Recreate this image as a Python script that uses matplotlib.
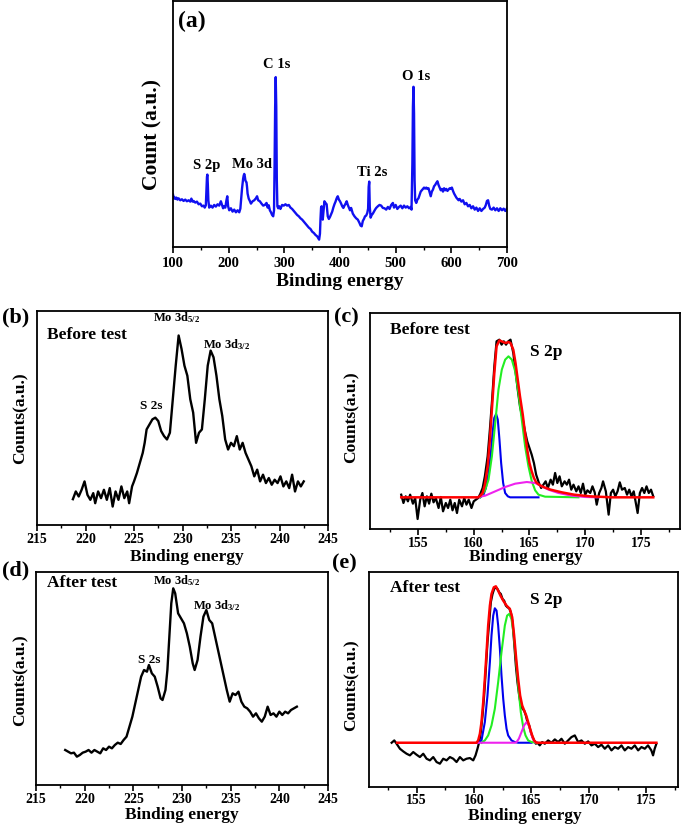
import matplotlib
matplotlib.use("Agg")
import matplotlib.pyplot as plt
from matplotlib.ticker import MultipleLocator

plt.rcParams['font.family'] = ['Liberation Serif', 'DejaVu Serif']
plt.rcParams['font.weight'] = 'bold'
plt.rcParams['mathtext.fontset'] = 'custom'
plt.rcParams['mathtext.rm'] = 'Liberation Serif:bold'
plt.rcParams['mathtext.it'] = 'Liberation Serif:bold'
plt.rcParams['mathtext.bf'] = 'Liberation Serif:bold'

# ---------------- data (binding energy eV, counts a.u.) ----------------
survey_pts = [
    (100, 157), (101, 146), (102, 150), (104, 144), (106, 148), (108, 142), (110, 146), (113, 140), (116, 143),
    (119, 138), (122, 142), (125, 137), (128, 140), (131, 136), (133, 145), (135, 136), (137, 138), (140, 133),
    (143, 136), (146, 128), (149, 130), (152, 122), (155, 124), (157, 118), (159, 125), (160, 170), (161, 210),
    (161.7, 217), (162.5, 190), (163.5, 140), (165, 118), (168, 124), (171, 118), (174, 126), (177, 121),
    (180, 128), (183, 124), (186, 137), (188, 126), (190, 116), (192, 122), (194, 118), (196, 140), (197.5, 152),
    (199, 122), (201, 110), (204, 116), (207, 106), (210, 112), (213, 104), (216, 110), (219, 104), (221, 115),
    (222, 135), (224, 175), (226, 205), (227, 214), (228, 219), (229, 212), (230, 200), (231, 196), (232, 194),
    (233, 180), (234, 160), (236, 145), (238, 138), (240, 130), (243, 137), (246, 140), (249, 146), (251, 152),
    (253, 140), (256, 137), (259, 130), (262, 124), (265, 126), (268, 132), (270, 118), (272, 125), (274, 110),
    (276, 104), (278, 96), (280, 92), (281.5, 110), (282.5, 250), (283.5, 420), (284.5, 509), (285.5, 420),
    (286.5, 200), (287.5, 122), (289, 116), (291, 122), (293, 114), (296, 126), (299, 124), (302, 128),
    (305, 124), (308, 126), (311, 118), (314, 114), (317, 108), (320, 102), (323, 96), (326, 92), (329, 86),
    (332, 82), (335, 76), (338, 70), (341, 64), (344, 58), (347, 54), (350, 46), (353, 42), (356, 36), (359, 32),
    (361, 26), (362.5, 22), (364, 40), (365, 85), (366, 118), (367, 122), (368, 96), (369, 82), (370.5, 110),
    (372, 137), (374, 132), (376, 128), (378, 92), (380, 84), (382, 90), (384, 98), (386, 106), (388, 118),
    (390, 128), (392, 136), (394, 146), (396, 152), (398, 142), (400, 137), (402, 130), (404, 122), (406, 117),
    (408, 124), (410, 130), (412, 137), (414, 126), (416, 118), (418, 110), (420, 117), (423, 100), (426, 92),
    (429, 86), (432, 82), (435, 72), (437, 64), (439, 62), (441, 78), (443, 84), (445, 92), (447, 94), (449, 102),
    (450.5, 115), (451.5, 180), (452.5, 196), (453.5, 120), (455, 88), (457, 96), (459, 100), (461, 106),
    (463, 112), (465, 117), (468, 122), (471, 126), (474, 124), (477, 117), (480, 116), (483, 112), (486, 120),
    (489, 114), (492, 126), (495, 132), (497, 118), (500, 126), (503, 114), (506, 120), (509, 124), (512, 116),
    (515, 124), (518, 118), (521, 122), (524, 116), (527, 120), (528.5, 112), (530, 250), (531, 420),
    (532, 480), (533, 400), (534, 200), (535, 140), (537, 132), (539, 142), (541, 146), (543, 156), (545, 166),
    (547, 170), (549, 174), (551, 178), (553, 175), (555, 178), (557, 174), (559, 176), (561, 164), (563, 152),
    (565, 166), (567, 172), (569, 182), (571, 186), (573, 192), (575, 197), (577, 186), (579, 178), (581, 170),
    (583, 174), (585, 166), (587, 176), (589, 170), (591, 174), (593, 168), (595, 172), (597, 176), (599, 174),
    (601, 178), (603, 168), (605, 160), (607, 154), (609, 148), (611, 144), (613, 140), (615, 144), (618, 136),
    (621, 140), (624, 128), (627, 132), (630, 122), (633, 126), (636, 116), (639, 122), (642, 112), (645, 118),
    (648, 108), (651, 116), (654, 108), (657, 114), (660, 118), (662, 126), (664, 138), (666, 140), (668, 124),
    (670, 114), (673, 112), (676, 118), (679, 110), (682, 116), (685, 108), (688, 116), (691, 110), (694, 115),
    (697, 108), (700, 116),
]

mo_before_pts = [
    (218.7, 77), (219.0, 100), (219.3, 85), (219.6, 105), (219.9, 130), (220.2, 90), (220.5, 75), (220.8, 95),
    (221.0, 65), (221.3, 100), (221.6, 80), (221.9, 105), (222.2, 75), (222.5, 110), (222.8, 55), (223.1, 100),
    (223.4, 75), (223.7, 115), (224.0, 80), (224.3, 100), (224.5, 65), (224.8, 115), (225.0, 130), (225.3, 155),
    (225.6, 185), (225.9, 215), (226.1, 245), (226.3, 285), (226.6, 300), (226.9, 315), (227.2, 320),
    (227.5, 310), (227.8, 280), (228.1, 265), (228.4, 255), (228.7, 275), (229.0, 375), (229.3, 475),
    (229.6, 565), (229.9, 525), (230.2, 475), (230.5, 445), (230.8, 375), (231.1, 335), (231.4, 245),
    (231.7, 275), (232.0, 285), (232.3, 375), (232.6, 475), (232.9, 520), (233.2, 500), (233.5, 445),
    (233.8, 375), (234.1, 325), (234.4, 255), (234.7, 225), (235.0, 245), (235.3, 235), (235.6, 265),
    (235.9, 225), (236.2, 245), (236.5, 215), (236.8, 195), (237.1, 175), (237.4, 145), (237.7, 165),
    (238.0, 130), (238.3, 150), (238.6, 125), (238.9, 140), (239.2, 120), (239.5, 135), (239.8, 125),
    (240.1, 145), (240.4, 115), (240.7, 130), (241.0, 110), (241.3, 150), (241.6, 100), (241.9, 130),
    (242.2, 115), (242.5, 130),
]

mo_after_pts = [
    (218.0, 105), (218.3, 100), (218.6, 95), (218.9, 97), (219.2, 85), (219.5, 90), (219.8, 97), (220.1, 100),
    (220.4, 105), (220.7, 97), (221.0, 105), (221.3, 100), (221.6, 95), (221.9, 110), (222.2, 105),
    (222.5, 115), (222.8, 110), (223.1, 120), (223.4, 127), (223.7, 123), (224.0, 135), (224.3, 145),
    (224.6, 175), (224.9, 205), (225.2, 245), (225.5, 285), (225.8, 325), (226.1, 345), (226.4, 340),
    (226.6, 360), (226.9, 335), (227.2, 325), (227.5, 295), (227.8, 260), (228.0, 255), (228.3, 285),
    (228.5, 345), (228.7, 445), (228.9, 545), (229.1, 590), (229.3, 575), (229.6, 515), (229.9, 500),
    (230.2, 485), (230.5, 455), (230.8, 415), (231.1, 365), (231.3, 345), (231.6, 375), (231.9, 445),
    (232.2, 505), (232.5, 525), (232.8, 495), (233.1, 485), (233.4, 445), (233.7, 405), (234.0, 365),
    (234.3, 325), (234.6, 285), (234.9, 250), (235.2, 275), (235.5, 270), (235.8, 280), (236.1, 250),
    (236.4, 235), (236.7, 230), (237.0, 220), (237.3, 205), (237.6, 215), (237.9, 200), (238.2, 190),
    (238.5, 205), (238.8, 235), (239.1, 210), (239.4, 215), (239.7, 205), (240.0, 220), (240.3, 210),
    (240.6, 220), (240.9, 215), (241.2, 225), (241.5, 230), (241.8, 235),
]

s_before_pts = [
    (153.5, 103), (153.7, 78), (153.9, 98), (154.1, 83), (154.3, 103), (154.55, 76), (154.75, 93),
    (154.97, 30), (155.2, 88), (155.4, 108), (155.6, 68), (155.8, 98), (156.0, 76), (156.2, 106), (156.4, 80),
    (156.6, 93), (156.85, 63), (157.05, 96), (157.25, 53), (157.5, 78), (157.7, 63), (157.9, 88), (158.1, 56),
    (158.3, 78), (158.5, 48), (158.7, 88), (158.95, 68), (159.15, 93), (159.35, 73), (159.55, 88), (159.8, 63),
    (160.0, 83), (160.2, 88), (160.4, 93), (160.6, 106), (160.8, 123), (161.0, 158), (161.25, 218),
    (161.45, 298), (161.65, 388), (161.85, 488), (162.05, 563), (162.3, 568), (162.5, 553), (162.7, 563),
    (162.9, 553), (163.1, 563), (163.3, 568), (163.55, 528), (163.75, 473), (163.95, 418), (164.15, 368),
    (164.4, 328), (164.6, 293), (164.8, 263), (165.0, 243), (165.2, 223), (165.4, 198), (165.6, 163),
    (165.85, 138), (166.05, 123), (166.25, 133), (166.45, 143), (166.65, 123), (166.9, 148), (167.1, 133),
    (167.3, 168), (167.5, 138), (167.7, 158), (167.9, 128), (168.15, 143), (168.35, 133), (168.55, 148),
    (168.75, 118), (168.95, 133), (169.2, 113), (169.4, 128), (169.6, 108), (169.8, 136), (170.0, 103),
    (170.2, 116), (170.45, 108), (170.65, 128), (170.85, 110), (171.03, 73), (171.25, 108), (171.45, 123),
    (171.6, 143), (171.85, 113), (172.1, 43), (172.3, 108), (172.5, 118), (172.7, 98), (172.9, 113),
    (173.1, 140), (173.3, 118), (173.55, 123), (173.75, 103), (173.95, 118), (174.15, 98), (174.35, 113),
    (174.7, 48), (174.9, 108), (175.1, 123), (175.3, 108), (175.5, 128), (175.7, 108), (175.9, 118),
    (176.1, 98),
]
s_before_fit = [
    (153.5, 95), (160.4, 95), (160.6, 100), (160.8, 108), (161.0, 133), (161.25, 188), (161.45, 268),
    (161.65, 368), (161.85, 468), (162.05, 548), (162.3, 566), (162.5, 563), (162.7, 560), (162.9, 558),
    (163.1, 561), (163.3, 558), (163.55, 538), (163.75, 498), (163.95, 448), (164.15, 398), (164.4, 343),
    (164.6, 288), (164.8, 238), (165.0, 198), (165.2, 173), (165.4, 153), (165.6, 140), (165.85, 133),
    (166.25, 126), (166.9, 118), (167.9, 110), (169.0, 103), (170.45, 98), (172.4, 95), (176.1, 95),
]
s_before_blue = [
    (160.58, 95), (160.88, 103), (161.09, 123), (161.33, 168), (161.54, 228), (161.69, 288), (161.84, 333),
    (162.01, 345), (162.16, 328), (162.31, 268), (162.46, 198), (162.64, 138), (162.82, 108), (163.06, 98),
    (163.27, 95), (165.81, 95),
]
s_before_green = [
    (160.58, 95), (161.0, 115), (161.33, 148), (161.63, 218), (161.93, 318), (162.22, 418), (162.52, 478),
    (162.82, 508), (163.12, 518), (163.42, 508), (163.72, 473), (164.01, 408), (164.31, 328), (164.61, 248),
    (164.91, 188), (165.21, 143), (165.51, 116), (165.81, 103), (166.40, 97), (169.39, 95),
]
s_before_magenta = [
    (160.28, 95), (161.03, 100), (161.93, 113), (162.82, 126), (163.72, 136), (164.76, 141), (165.51, 138),
    (166.1, 128), (166.7, 118), (167.6, 108), (168.79, 100), (169.99, 96), (171.18, 95),
]

s_after_pts = [
    (152.83, 133), (153.06, 140), (153.26, 130), (153.55, 115), (153.84, 107), (154.13, 100), (154.42, 95),
    (154.71, 105), (155.0, 97), (155.29, 90), (155.58, 100), (155.87, 85), (156.16, 80), (156.45, 90),
    (156.74, 75), (157.03, 70), (157.32, 85), (157.61, 80), (157.90, 90), (158.19, 85), (158.48, 75),
    (158.77, 90), (159.06, 80), (159.35, 85), (159.64, 87), (159.93, 80), (160.13, 95), (160.30, 115),
    (160.45, 135), (160.59, 165), (160.74, 215), (160.88, 275), (161.03, 355), (161.17, 435), (161.32, 495),
    (161.46, 555), (161.61, 580), (161.75, 595), (161.90, 600), (162.04, 595), (162.19, 585), (162.33, 580),
    (162.48, 565), (162.62, 560), (162.77, 545), (162.91, 540), (163.06, 537), (163.20, 525), (163.35, 495),
    (163.49, 435), (163.64, 365), (163.78, 315), (163.93, 275), (164.07, 245), (164.22, 235), (164.36, 230),
    (164.51, 215), (164.65, 195), (164.80, 185), (164.94, 165), (165.09, 150), (165.23, 140), (165.38, 130),
    (165.52, 133), (165.72, 125), (165.93, 135), (166.16, 130), (166.45, 140), (166.74, 133), (167.03, 143),
    (167.32, 135), (167.61, 145), (167.90, 130), (168.19, 140), (168.48, 150), (168.77, 155), (169.06, 135),
    (169.35, 140), (169.64, 130), (169.93, 137), (170.22, 125), (170.51, 130), (170.80, 120), (171.09, 127),
    (171.38, 115), (171.67, 125), (171.96, 110), (172.25, 120), (172.54, 115), (172.83, 125), (173.12, 110),
    (173.41, 120), (173.70, 115), (173.99, 125), (174.28, 110), (174.57, 120), (174.86, 115), (175.14, 125),
    (175.43, 110), (175.58, 95), (175.72, 115), (175.87, 130),
]
s_after_fit = [
    (153.3, 133), (160.22, 133), (160.36, 140), (160.51, 160), (160.65, 195), (160.80, 255), (160.94, 325),
    (161.09, 405), (161.23, 485), (161.38, 545), (161.52, 580), (161.72, 600), (161.90, 603), (162.10, 590),
    (162.30, 575), (162.54, 560), (162.83, 545), (163.12, 535), (163.32, 510), (163.49, 455), (163.67, 385),
    (163.84, 325), (164.01, 275), (164.19, 245), (164.36, 230), (164.54, 215), (164.71, 195), (164.88, 175),
    (165.06, 155), (165.23, 140), (165.43, 133), (175.87, 133),
]
s_after_blue = [
    (160.36, 133), (160.65, 140), (160.94, 195), (161.17, 275), (161.38, 375), (161.52, 455), (161.67, 515),
    (161.81, 537), (161.96, 530), (162.10, 485), (162.25, 415), (162.39, 335), (162.54, 265), (162.68, 215),
    (162.83, 175), (162.97, 155), (163.26, 140), (163.55, 135), (163.84, 133), (165.0, 133),
]
s_after_green = [
    (160.65, 133), (160.94, 140), (161.23, 155), (161.52, 185), (161.81, 235), (162.10, 315), (162.39, 405),
    (162.68, 485), (162.88, 515), (163.06, 520), (163.26, 505), (163.46, 455), (163.67, 375), (163.87, 295),
    (164.07, 225), (164.28, 180), (164.48, 155), (164.71, 140), (165.0, 135), (165.43, 133),
]
s_after_magenta = [
    (160.22, 133), (163.55, 133), (163.70, 135), (163.90, 145), (164.13, 165), (164.36, 185), (164.57, 195),
    (164.77, 185), (164.94, 165), (165.12, 145), (165.29, 135), (165.52, 133),
]


def xs(pts):
    return [p[0] for p in pts]


def ys(pts):
    return [p[1] for p in pts]


W, H = 685, 824
fig = plt.figure(figsize=(W / 100, H / 100), dpi=100)


def box(l, t, r, b):
    return [l / W, 1 - b / H, (r - l) / W, (b - t) / H]


def ftext(x, y, s, size, ha='left', va='center', rot=0):
    fig.text(x / W, 1 - y / H, s, fontsize=size, fontweight='bold', ha=ha, va=va, rotation=rot)


def style(ax, xlim, ylim, minor, ticks, lsize=10, pad=2):
    ax.set_xlim(*xlim)
    ax.set_ylim(*ylim)
    ax.set_xticks(ticks)
    ax.xaxis.set_minor_locator(MultipleLocator(minor))
    ax.set_yticks([])
    ax.tick_params(axis='x', which='major', direction='out', length=4, width=1.2, pad=pad, labelsize=lsize)
    ax.tick_params(axis='x', which='minor', direction='out', length=2.5, width=1.0)
    for lab in ax.get_xticklabels():
        lab.set_fontweight('bold')
    for sp in ax.spines.values():
        sp.set_linewidth(1.3)


# (a) survey
ax_a = fig.add_axes(box(173, 1, 507, 247))
ax_a.plot(xs(survey_pts), ys(survey_pts), color='#1010f0', lw=1.7)
style(ax_a, (100, 700), (0, 737), 50, [100, 200, 300, 400, 500, 600, 700], lsize=10.5, pad=3)
ftext(178, 21, '(a)', 17)
ftext(207, 166, 'S 2p', 10.5, ha='center')
ftext(252, 165, 'Mo 3d', 10.5, ha='center')
ftext(277, 64, 'C 1s', 10.5, ha='center')
ftext(372, 173, 'Ti 2s', 10.5, ha='center')
ftext(416, 77, 'O 1s', 10.5, ha='center')
ftext(152, 134, 'Count (a.u.)', 15.5, ha='center', rot=90)
ftext(340, 281, 'Binding energy', 14, ha='center')

# (b) Mo 3d before
ax_b = fig.add_axes(box(37, 311, 328, 525))
ax_b.plot(xs(mo_before_pts), ys(mo_before_pts), color='black', lw=1.7)
style(ax_b, (215, 245), (0, 638), 2.5, [215, 220, 225, 230, 235, 240, 245])
ftext(2, 317, '(b)', 16)
ftext(47, 335, 'Before test', 12.5)
ftext(153, 321, r'Mo 3d$_{5/2}$', 9, va='baseline')
ftext(203, 348, r'Mo 3d$_{3/2}$', 9, va='baseline')
ftext(140, 406, 'S 2s', 9.5)
ftext(21, 418, 'Counts(a.u.)', 12.5, ha='center', rot=90)
ftext(187, 557, 'Binding energy', 12.5, ha='center')

# (c) S 2p before
ax_c = fig.add_axes(box(370, 313, 680, 529))
ax_c.plot(xs(s_before_pts), ys(s_before_pts), color='black', lw=1.6)
ax_c.plot(xs(s_before_blue), ys(s_before_blue), color='#0000ee', lw=1.5)
ax_c.plot(xs(s_before_green), ys(s_before_green), color='#22ee22', lw=1.5)
ax_c.plot(xs(s_before_magenta), ys(s_before_magenta), color='#ee22ee', lw=1.5)
ax_c.plot(xs(s_before_fit), ys(s_before_fit), color='#ff0000', lw=1.8)
style(ax_c, (150.7, 178.5), (0, 648), 2.5, [155, 160, 165, 170, 175])
ftext(334, 317, '(c)', 16)
ftext(390, 330, 'Before test', 12.5)
ftext(530, 352, 'S 2p', 12.5)
ftext(352, 417, 'Counts(a.u.)', 12.5, ha='center', rot=90)
ftext(526, 557, 'Binding energy', 12.5, ha='center')

# (d) Mo 3d after
ax_d = fig.add_axes(box(36, 572, 328, 785))
ax_d.plot(xs(mo_after_pts), ys(mo_after_pts), color='black', lw=1.7)
style(ax_d, (215, 245), (0, 639), 2.5, [215, 220, 225, 230, 235, 240, 245])
ftext(2, 570, '(d)', 16)
ftext(47, 583, 'After test', 12.5)
ftext(153, 584, r'Mo 3d$_{5/2}$', 9, va='baseline')
ftext(193, 609, r'Mo 3d$_{3/2}$', 9, va='baseline')
ftext(138, 660, 'S 2s', 9.5)
ftext(21, 680, 'Counts(a.u.)', 12.5, ha='center', rot=90)
ftext(182, 815, 'Binding energy', 12.5, ha='center')

# (e) S 2p after
ax_e = fig.add_axes(box(369, 572, 678, 787))
ax_e.plot(xs(s_after_pts), ys(s_after_pts), color='black', lw=1.6)
ax_e.plot(xs(s_after_blue), ys(s_after_blue), color='#0000ee', lw=1.5)
ax_e.plot(xs(s_after_green), ys(s_after_green), color='#22ee22', lw=1.5)
ax_e.plot(xs(s_after_magenta), ys(s_after_magenta), color='#ee22ee', lw=1.5)
ax_e.plot(xs(s_after_fit), ys(s_after_fit), color='#ff0000', lw=1.8)
style(ax_e, (150.86, 177.75), (0, 646), 2.5, [155, 160, 165, 170, 175], pad=1)
ftext(332, 563, '(e)', 16)
ftext(390, 588, 'After test', 12.5)
ftext(530, 600, 'S 2p', 12.5)
ftext(352, 685, 'Counts(a.u.)', 12.5, ha='center', rot=90)
ftext(525, 815.5, 'Binding energy', 12.5, ha='center')

fig.savefig('out.png', dpi=100)
